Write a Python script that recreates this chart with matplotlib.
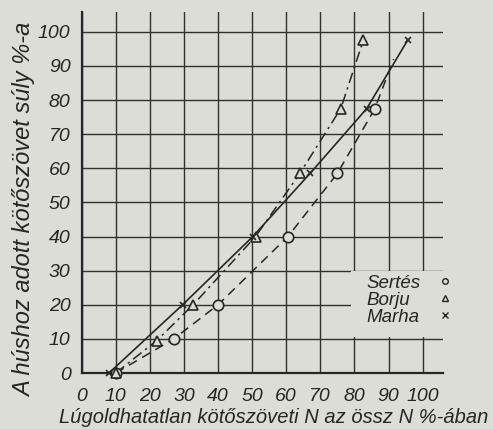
import matplotlib
matplotlib.use("Agg")
import matplotlib.pyplot as plt
from matplotlib.patches import Rectangle

# Data
sertes_x = [10, 27, 40, 60.5, 75, 86]
sertes_y = [0, 10, 20, 40, 58.5, 77.5]
sertes_line_end = (91.5, 92)      # dashed curve runs on past the last circle

borju_x = [10, 22, 32.7, 51, 64, 76, 82.6]
borju_y = [0, 9.5, 20, 40, 58.5, 77.5, 97.5]

marha_x = [8, 29.6, 50.2, 67, 83.6, 95.6]
marha_y = [0, 20, 40, 58.5, 77.5, 97.5]

ticks = list(range(0, 101, 10))
legend_names = ["Sertés", "Borju", "Marha"]
legend_marks = ["o", "^", "x"]

bg = "#dcddd6"
ink = "#262626"
plt.rcParams['font.family'] = ['Liberation Sans', 'DejaVu Sans']
plt.rcParams['font.style'] = 'italic'

fig = plt.figure(figsize=(4.93, 4.29), dpi=100, facecolor=bg)
ax = fig.add_axes([0.1657, 0.1305, 0.733, 0.8415], facecolor=bg)

ax.set_xlim(0, 106)
ax.set_ylim(0, 105.8)
ax.set_xticks(ticks)
ax.set_yticks(ticks)
ax.grid(True, color="#303030", linewidth=1.0, zorder=0)
ax.set_axisbelow(True)
for side in ["top", "right"]:
    ax.spines[side].set_visible(False)
for side in ["left", "bottom"]:
    ax.spines[side].set_color(ink)
    ax.spines[side].set_linewidth(1.6)
ax.tick_params(length=0, labelsize=14, colors=ink)
ax.tick_params(axis="x", pad=11)
ax.tick_params(axis="y", pad=8)

# blank patch where the key is written
ax.add_patch(Rectangle((79, 10.6), 27, 19.3, facecolor=bg, edgecolor="none", zorder=1))

# curves
ax.plot(sertes_x + [sertes_line_end[0]], sertes_y + [sertes_line_end[1]],
        color=ink, lw=1.1, ls=(0, (6, 4)), zorder=2)
ax.plot(borju_x, borju_y, color=ink, lw=1.1, ls=(0, (7, 3, 1.5, 3)), zorder=2)
ax.plot(marha_x, marha_y, color=ink, lw=1.2, ls="-", zorder=2)

# markers
ax.plot(sertes_x, sertes_y, "o", ms=7.5, mfc=bg, mec=ink, mew=1.2, ls="none", zorder=3, clip_on=False)
ax.plot(borju_x, borju_y, "^", ms=6.5, mfc=bg, mec=ink, mew=1.2, ls="none", zorder=3, clip_on=False)
ax.plot(marha_x, marha_y, "x", ms=5, mec=ink, mew=1.2, ls="none", zorder=3, clip_on=False)

# hand-written key
for i, (name, mk) in enumerate(zip(legend_names, legend_marks)):
    yy = 24.9 - 5 * i
    ax.text(83.5, yy, name, fontsize=13.5, color=ink, va="baseline", ha="left", zorder=4)
    ax.plot([106.5], [yy + 2], mk, ms=4, mfc=bg, mec=ink, mew=1, clip_on=False, zorder=4)

fig.text(0.05, 0.51, "A húshoz adott kötőszövet súly %-a", rotation=90,
         fontsize=17, color=ink, ha="center", va="center")
fig.text(0.12, 0.004, "Lúgoldhatatlan kötőszöveti N az össz N %-ában",
         fontsize=14.5, color=ink, ha="left", va="bottom")

fig.savefig("out.png", dpi=100, facecolor=bg)
